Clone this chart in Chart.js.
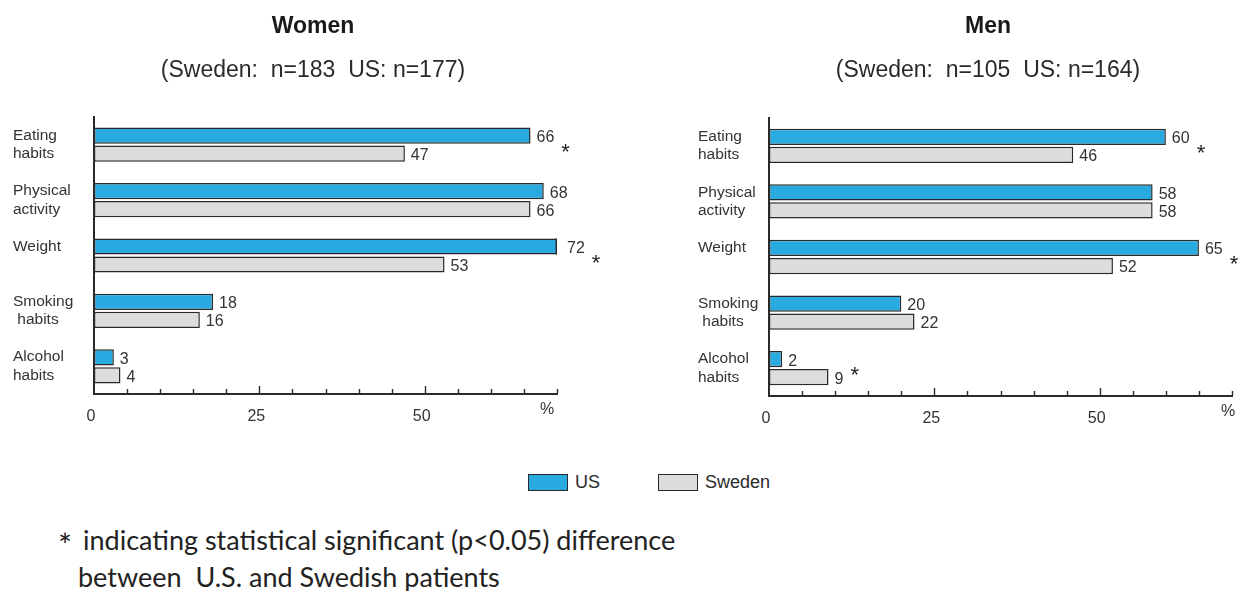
<!DOCTYPE html>
<html>
<head>
<meta charset="utf-8">
<script src="https://cdn.jsdelivr.net/npm/chart.js@4/dist/chart.umd.min.js"></script>
<style>
  html, body { margin: 0; padding: 0; background: #fff; }
  body { width: 1240px; height: 591px; position: relative; overflow: hidden; font-family: "Liberation Sans", Arial, sans-serif; }
  .panel { position: absolute; top: 0; height: 440px; }
  #womenWrap { left: 0; width: 640px; }
  #menWrap { left: 660px; width: 580px; }
  .legend { position: absolute; top: 473px; height: 18px; display: flex; align-items: center; font-size: 18px; color: #2a2a2a; }
  .swatch { width: 38px; height: 15px; border: 1.5px solid #2a2a2a; margin-right: 7px; }
  .note { position: absolute; font-family: Lato, "Open Sans", sans-serif; font-size: 27px; color: #222; white-space: pre; line-height: 1; }
</style>
</head>
<body>
<div class="panel" id="womenWrap"><canvas id="women" width="640" height="440"></canvas></div>
<div class="panel" id="menWrap"><canvas id="men" width="580" height="440"></canvas></div>

<div class="legend" style="left:528px"><div class="swatch" style="background:#29abe2"></div>US</div>
<div class="legend" style="left:658px"><div class="swatch" style="background:#dcddde"></div>Sweden</div>

<div class="note" style="left:58px; top:528px; font-size:33px">*</div>
<div class="note" style="left:83px; top:526px">indicating statistical significant (p&lt;0.05) difference</div>
<div class="note" style="left:78px; top:563px">between  U.S. and Swedish patients</div>

<script>
// Categories (two-line axis labels) and the percentages for each group
const categories = [['Eating', 'habits'], ['Physical', 'activity'], ['Weight', ''], ['Smoking', ' habits'], ['Alcohol', 'habits']];
const seriesNames = ['US', 'Sweden'];

const womenUS = [66, 68, 72, 18, 3];
const womenSweden = [47, 66, 53, 16, 4];
const menUS = [60, 58, 65, 20, 2];
const menSweden = [46, 58, 52, 22, 9];

// 1 = significant US/Sweden difference (marked with *)
const womenSignificant = [1, 0, 1, 0, 0];
const menSignificant = [1, 0, 1, 0, 1];

const xTickLabels = [0, 25, 50];
const xAxisMax = 70;
const xTickStep = 5;

const FONT = '"Liberation Sans", Arial, sans-serif';
const INK = '#2a2a2a';

// Panel heading: bold title and the sample sizes underneath
const heading = {
  id: 'heading',
  afterDraw(chart, args, opts) {
    const ctx = chart.ctx;
    ctx.save();
    ctx.textAlign = 'center';
    ctx.textBaseline = 'middle';
    ctx.fillStyle = '#1a1a1a';
    ctx.font = 'bold 23px ' + FONT;
    ctx.fillText(opts.title, opts.centerX, 27);
    ctx.fillStyle = '#2a2a2a';
    ctx.font = '23px ' + FONT;
    ctx.fillText(opts.subtitle, opts.centerX, 71);
    ctx.restore();
  }
};

// Value labels, significance stars, inward axis ticks and the % unit
const annotate = {
  id: 'annotate',
  afterDatasetsDraw(chart, args, opts) {
    const ctx = chart.ctx;
    const area = chart.chartArea;
    ctx.save();
    // bars running past the axis end still get their closing edge
    ctx.strokeStyle = INK;
    ctx.lineWidth = 1.5;
    chart.data.datasets.forEach((ds, di) => {
      chart.getDatasetMeta(di).data.forEach((bar, i) => {
        if (bar.x > area.right) {
          ctx.beginPath();
          ctx.moveTo(area.right - 0.75, bar.y - bar.height / 2);
          ctx.lineTo(area.right - 0.75, bar.y + bar.height / 2);
          ctx.stroke();
        }
      });
    });
    ctx.font = '16px ' + FONT;
    ctx.fillStyle = '#333';
    ctx.textAlign = 'left';
    ctx.textBaseline = 'middle';
    const labelEnds = [];
    chart.data.datasets.forEach((ds, di) => {
      const meta = chart.getDatasetMeta(di);
      meta.data.forEach((bar, i) => {
        const txt = String(ds.data[i]);
        const x = Math.min(bar.x, area.right + 4) + 6;
        ctx.fillText(txt, x, bar.y + 2);
        const end = x + ctx.measureText(txt).width;
        labelEnds[i] = Math.max(labelEnds[i] || 0, end);
      });
    });
    // stars
    ctx.font = '22px ' + FONT;
    ctx.textBaseline = 'alphabetic';
    ctx.fillStyle = '#222';
    const ys = chart.scales.y;
    opts.significant.forEach((s, i) => {
      if (!s) return;
      const cy = ys.getPixelForValue(i);
      ctx.fillText('*', labelEnds[i] + 7, cy + 14);
    });
    ctx.restore();
  },
  afterDraw(chart, args, opts) {
    const ctx = chart.ctx;
    const area = chart.chartArea;
    const xs = chart.scales.x;
    ctx.save();
    ctx.strokeStyle = INK;
    ctx.lineWidth = 1.4;
    for (let v = xTickStep; v <= xAxisMax; v += xTickStep) {
      const x = Math.round(xs.getPixelForValue(v)) + 0.5;
      const len = (v % 25 === 0) ? 7 : 4;
      ctx.beginPath();
      ctx.moveTo(x, area.bottom - 1);
      ctx.lineTo(x, area.bottom - 1 - len);
      ctx.stroke();
    }
    ctx.font = '16px ' + FONT;
    ctx.fillStyle = '#333';
    ctx.textAlign = 'center';
    ctx.textBaseline = 'middle';
    ctx.fillText('%', xs.getPixelForValue(xAxisMax) + opts.unitOffset, area.bottom + 16);
    ctx.restore();
  }
};

function makeChart(id, title, subtitle, us, sweden, significant, geo) {
  return new Chart(document.getElementById(id), {
    type: 'bar',
    data: {
      labels: categories,
      datasets: [
        { label: seriesNames[0], data: us, backgroundColor: '#29abe2', borderColor: INK, borderWidth: 1.5, borderSkipped: false },
        { label: seriesNames[1], data: sweden, backgroundColor: '#dcddde', borderColor: INK, borderWidth: 1.5, borderSkipped: false }
      ]
    },
    options: {
      indexAxis: 'y',
      responsive: false,
      animation: false,
      events: [],
      categoryPercentage: 0.65,
      barPercentage: 0.9,
      layout: { padding: { left: geo.left, right: geo.right, top: geo.top, bottom: 0 } },
      plugins: {
        legend: { display: false },
        tooltip: { enabled: false },
        heading: { title: title, subtitle: subtitle, centerX: geo.titleX },
        annotate: { significant: significant, unitOffset: geo.unitOffset }
      },
      scales: {
        x: {
          type: 'linear', min: 0, max: xAxisMax,
          grid: { display: false },
          border: { display: true, color: INK, width: 2 },
          ticks: {
            stepSize: xTickStep, autoSkip: false, maxRotation: 0, padding: 5, labelOffset: -3,
            color: '#333', font: { family: FONT, size: 16 },
            callback: v => xTickLabels.includes(v) ? String(v) : ''
          },
          afterFit: s => { s.height = geo.xHeight; }
        },
        y: {
          type: 'category', offset: true,
          grid: { display: false },
          border: { display: true, color: INK, width: 2 },
          ticks: { crossAlign: 'far', padding: 0, color: '#333', font: { family: FONT, size: 15.5, lineHeight: 1.18 } },
          afterFit: s => { s.width = geo.yWidth; }
        }
      }
    },
    plugins: [heading, annotate]
  });
}

makeChart('women', 'Women', '(Sweden:  n=183  US: n=177)', womenUS, womenSweden, womenSignificant,
  { left: 13, right: 83, top: 117, yWidth: 81, xHeight: 46, titleX: 313, unitOffset: -10 });
makeChart('men', 'Men', '(Sweden:  n=105  US: n=164)', menUS, menSweden, menSignificant,
  { left: 38, right: 8, top: 118, yWidth: 71, xHeight: 44, titleX: 328, unitOffset: -4 });
</script>
</body>
</html>
